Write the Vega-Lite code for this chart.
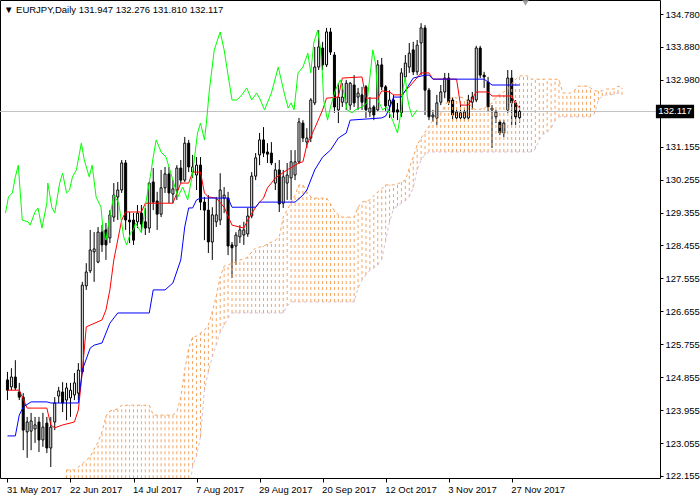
{
  "$schema": "https://vega.github.io/schema/vega-lite/v6.json",
  "width": 660,
  "height": 478,
  "autosize": {"type": "none"},
  "padding": {"left": 0, "top": 0, "right": 40, "bottom": 22},
  "background": "white",
  "title": {"text": "▼ EURJPY,Daily  131.947 132.276 131.810 132.117", "anchor": "start", "frame": "group", "orient": "top", "offset": -14, "baseline": "top", "font": "Liberation Sans", "fontSize": 9.5, "fontWeight": "normal", "color": "black", "dx": 4},
  "config": {"view": {"stroke": "black", "strokeWidth": 1}, "axis": {"labelOverlap": false, "labelFont": "Liberation Sans", "labelFontSize": 9.5, "labelColor": "black", "tickColor": "black", "grid": false, "domain": false, "title": null}, "axisY": {"labelOverlap": false}, "axisRight": {"labelOverlap": false}},
  "datasets": {
    "candles": [
      {"i":0,"o":124.78,"h":125.00,"l":124.23,"c":124.50},
      {"i":1,"o":124.59,"h":125.10,"l":124.50,"c":124.86},
      {"i":2,"o":124.86,"h":125.32,"l":124.50,"c":124.56},
      {"i":3,"o":124.45,"h":124.70,"l":124.23,"c":124.31},
      {"i":4,"o":124.31,"h":124.42,"l":122.86,"c":123.41},
      {"i":5,"o":123.36,"h":123.77,"l":122.65,"c":123.63},
      {"i":6,"o":123.38,"h":123.88,"l":122.86,"c":123.66},
      {"i":7,"o":123.44,"h":123.77,"l":123.06,"c":123.55},
      {"i":8,"o":123.63,"h":123.77,"l":122.81,"c":123.14},
      {"i":9,"o":123.14,"h":123.88,"l":122.95,"c":123.49},
      {"i":10,"o":123.60,"h":123.77,"l":122.78,"c":122.92},
      {"i":11,"o":122.92,"h":123.77,"l":122.40,"c":123.49},
      {"i":12,"o":123.63,"h":124.31,"l":123.41,"c":124.15},
      {"i":13,"o":124.34,"h":124.59,"l":124.15,"c":124.48},
      {"i":14,"o":124.45,"h":124.72,"l":123.90,"c":124.15},
      {"i":15,"o":124.23,"h":124.70,"l":123.68,"c":124.56},
      {"i":16,"o":124.29,"h":124.70,"l":123.77,"c":124.50},
      {"i":17,"o":124.37,"h":124.97,"l":124.23,"c":124.70},
      {"i":18,"o":124.42,"h":125.24,"l":124.23,"c":125.05},
      {"i":19,"o":125.00,"h":127.46,"l":124.94,"c":127.37},
      {"i":20,"o":127.35,"h":127.97,"l":127.24,"c":127.73},
      {"i":21,"o":127.76,"h":128.88,"l":127.70,"c":128.33},
      {"i":22,"o":128.28,"h":128.82,"l":127.46,"c":128.36},
      {"i":23,"o":128.00,"h":128.96,"l":127.97,"c":128.82},
      {"i":24,"o":128.82,"h":129.01,"l":128.28,"c":128.47},
      {"i":25,"o":128.88,"h":129.07,"l":128.06,"c":128.47},
      {"i":26,"o":128.66,"h":129.42,"l":128.52,"c":129.29},
      {"i":27,"o":129.23,"h":130.16,"l":129.10,"c":129.83},
      {"i":28,"o":129.78,"h":130.19,"l":129.15,"c":129.97},
      {"i":29,"o":129.97,"h":130.79,"l":129.89,"c":130.71},
      {"i":30,"o":130.71,"h":130.79,"l":128.88,"c":129.15},
      {"i":31,"o":129.15,"h":129.37,"l":128.52,"c":129.10},
      {"i":32,"o":129.15,"h":129.34,"l":128.47,"c":128.60},
      {"i":33,"o":129.10,"h":129.56,"l":128.93,"c":129.34},
      {"i":34,"o":129.34,"h":129.56,"l":128.82,"c":129.04},
      {"i":35,"o":129.10,"h":129.48,"l":128.74,"c":128.93},
      {"i":36,"o":128.93,"h":130.19,"l":128.80,"c":130.16},
      {"i":37,"o":130.19,"h":130.57,"l":129.42,"c":129.64},
      {"i":38,"o":129.67,"h":129.92,"l":128.88,"c":129.31},
      {"i":39,"o":129.31,"h":130.52,"l":129.23,"c":130.03},
      {"i":40,"o":130.03,"h":130.60,"l":129.89,"c":130.41},
      {"i":41,"o":130.41,"h":130.60,"l":129.61,"c":129.89},
      {"i":42,"o":129.86,"h":130.24,"l":129.61,"c":130.00},
      {"i":43,"o":129.97,"h":130.65,"l":129.70,"c":130.57},
      {"i":44,"o":130.57,"h":130.79,"l":130.16,"c":130.24},
      {"i":45,"o":130.24,"h":131.42,"l":130.19,"c":131.25},
      {"i":46,"o":131.25,"h":131.34,"l":130.46,"c":130.60},
      {"i":47,"o":130.46,"h":130.93,"l":130.30,"c":130.60},
      {"i":48,"o":130.38,"h":130.87,"l":129.97,"c":130.65},
      {"i":49,"o":130.65,"h":130.87,"l":129.42,"c":129.64},
      {"i":50,"o":129.64,"h":129.78,"l":128.60,"c":129.42},
      {"i":51,"o":129.42,"h":129.83,"l":128.25,"c":128.55},
      {"i":52,"o":128.55,"h":129.50,"l":128.06,"c":129.29},
      {"i":53,"o":129.10,"h":129.78,"l":128.96,"c":129.29},
      {"i":54,"o":129.15,"h":130.43,"l":129.01,"c":129.97},
      {"i":55,"o":129.75,"h":130.05,"l":129.34,"c":129.83},
      {"i":56,"o":129.75,"h":129.92,"l":128.19,"c":128.44},
      {"i":57,"o":128.47,"h":128.55,"l":127.57,"c":128.39},
      {"i":58,"o":128.44,"h":128.82,"l":127.92,"c":128.74},
      {"i":59,"o":128.69,"h":129.01,"l":128.52,"c":128.88},
      {"i":60,"o":128.74,"h":129.10,"l":128.47,"c":128.88},
      {"i":61,"o":128.77,"h":129.48,"l":128.69,"c":129.26},
      {"i":62,"o":129.26,"h":130.46,"l":129.20,"c":130.35},
      {"i":63,"o":130.35,"h":130.98,"l":130.24,"c":130.85},
      {"i":64,"o":130.93,"h":131.53,"l":130.65,"c":131.34},
      {"i":65,"o":131.34,"h":131.69,"l":130.87,"c":130.98},
      {"i":66,"o":131.01,"h":131.25,"l":130.71,"c":130.95},
      {"i":67,"o":130.98,"h":131.28,"l":130.65,"c":130.71},
      {"i":68,"o":130.16,"h":130.71,"l":129.97,"c":130.52},
      {"i":69,"o":130.52,"h":130.79,"l":129.37,"c":129.59},
      {"i":70,"o":129.61,"h":130.52,"l":129.48,"c":130.33},
      {"i":71,"o":130.16,"h":130.71,"l":129.70,"c":130.38},
      {"i":72,"o":130.30,"h":131.06,"l":129.70,"c":130.74},
      {"i":73,"o":130.38,"h":131.06,"l":130.24,"c":130.74},
      {"i":74,"o":130.74,"h":131.94,"l":130.68,"c":131.83},
      {"i":75,"o":131.80,"h":131.88,"l":131.28,"c":131.39},
      {"i":76,"o":131.28,"h":131.66,"l":131.12,"c":131.39},
      {"i":77,"o":131.39,"h":132.48,"l":131.28,"c":132.43},
      {"i":78,"o":132.35,"h":133.88,"l":132.29,"c":133.33},
      {"i":79,"o":133.33,"h":134.34,"l":133.25,"c":133.88},
      {"i":80,"o":133.85,"h":134.02,"l":133.25,"c":133.39},
      {"i":81,"o":133.39,"h":134.40,"l":133.33,"c":134.29},
      {"i":82,"o":134.29,"h":134.40,"l":133.66,"c":133.74},
      {"i":83,"o":133.66,"h":133.74,"l":132.08,"c":132.24},
      {"i":84,"o":132.16,"h":132.89,"l":131.80,"c":132.51},
      {"i":85,"o":132.37,"h":132.89,"l":132.24,"c":132.51},
      {"i":86,"o":132.35,"h":132.98,"l":132.16,"c":132.89},
      {"i":87,"o":132.29,"h":132.92,"l":132.16,"c":132.89},
      {"i":88,"o":132.84,"h":133.11,"l":132.24,"c":132.35},
      {"i":89,"o":132.51,"h":132.76,"l":132.16,"c":132.62},
      {"i":90,"o":132.57,"h":132.79,"l":132.16,"c":132.37},
      {"i":91,"o":132.79,"h":132.84,"l":131.94,"c":132.16},
      {"i":92,"o":132.10,"h":132.51,"l":131.97,"c":132.21},
      {"i":93,"o":132.24,"h":132.29,"l":131.88,"c":132.02},
      {"i":94,"o":132.16,"h":133.52,"l":132.10,"c":133.39},
      {"i":95,"o":133.39,"h":133.58,"l":132.70,"c":132.79},
      {"i":96,"o":132.79,"h":132.84,"l":132.10,"c":132.27},
      {"i":97,"o":132.27,"h":132.70,"l":131.94,"c":132.43},
      {"i":98,"o":132.43,"h":132.57,"l":131.94,"c":132.10},
      {"i":99,"o":132.16,"h":132.35,"l":131.88,"c":132.10},
      {"i":100,"o":132.08,"h":133.30,"l":131.97,"c":133.17},
      {"i":101,"o":133.06,"h":133.66,"l":132.98,"c":133.44},
      {"i":102,"o":133.33,"h":133.99,"l":133.17,"c":133.71},
      {"i":103,"o":133.80,"h":134.02,"l":133.11,"c":133.20},
      {"i":104,"o":133.20,"h":134.07,"l":133.11,"c":133.93},
      {"i":105,"o":133.99,"h":134.53,"l":133.11,"c":134.40},
      {"i":106,"o":134.40,"h":134.48,"l":132.02,"c":132.70},
      {"i":107,"o":132.70,"h":132.76,"l":131.88,"c":131.97},
      {"i":108,"o":131.97,"h":132.16,"l":131.83,"c":132.02},
      {"i":109,"o":131.94,"h":132.57,"l":131.75,"c":132.35},
      {"i":110,"o":132.37,"h":132.84,"l":132.29,"c":132.65},
      {"i":111,"o":132.65,"h":133.17,"l":132.48,"c":133.03},
      {"i":112,"o":133.03,"h":133.17,"l":132.29,"c":132.37},
      {"i":113,"o":132.43,"h":132.51,"l":131.88,"c":132.02},
      {"i":114,"o":131.94,"h":132.21,"l":131.88,"c":132.10},
      {"i":115,"o":131.94,"h":132.29,"l":131.88,"c":132.08},
      {"i":116,"o":131.94,"h":132.21,"l":131.86,"c":132.10},
      {"i":117,"o":131.94,"h":132.57,"l":131.88,"c":132.43},
      {"i":118,"o":132.37,"h":132.65,"l":132.16,"c":132.51},
      {"i":119,"o":132.43,"h":133.91,"l":132.37,"c":133.85},
      {"i":120,"o":133.85,"h":133.91,"l":133.03,"c":133.11},
      {"i":121,"o":133.11,"h":133.20,"l":132.76,"c":133.06},
      {"i":122,"o":132.92,"h":133.06,"l":132.10,"c":132.24},
      {"i":123,"o":132.21,"h":132.29,"l":131.12,"c":132.16},
      {"i":124,"o":131.97,"h":132.16,"l":131.80,"c":132.10},
      {"i":125,"o":131.83,"h":131.88,"l":131.47,"c":131.53},
      {"i":126,"o":131.53,"h":131.88,"l":131.42,"c":131.80},
      {"i":127,"o":132.16,"h":133.25,"l":132.08,"c":133.03},
      {"i":128,"o":133.03,"h":133.25,"l":131.75,"c":132.35},
      {"i":129,"o":132.35,"h":132.43,"l":131.75,"c":131.97},
      {"i":130,"o":131.947,"h":132.276,"l":131.810,"c":132.117}
    ],
    "tenkan": [
      {"i":0,"v":124.50},{"i":3,"v":124.50},{"i":5,"v":124.01},{"i":10,"v":124.01},{"i":11,"v":123.55},{"i":12,"v":123.47},{"i":14,"v":123.55},{"i":17,"v":123.63},{"i":18,"v":123.96},{"i":19,"v":125.00},{"i":20,"v":126.23},{"i":24,"v":126.42},{"i":25,"v":126.69},{"i":26,"v":127.24},{"i":27,"v":128.06},{"i":29,"v":129.15},{"i":30,"v":129.37},{"i":34,"v":129.37},{"i":35,"v":129.61},{"i":42,"v":129.61},{"i":44,"v":130.16},{"i":46,"v":130.16},{"i":47,"v":130.46},{"i":49,"v":130.46},{"i":50,"v":129.89},{"i":51,"v":129.78},{"i":53,"v":129.75},{"i":55,"v":129.50},{"i":57,"v":129.01},{"i":60,"v":128.93},{"i":61,"v":129.15},{"i":63,"v":129.50},{"i":64,"v":129.64},{"i":65,"v":129.75},{"i":66,"v":130.03},{"i":67,"v":130.16},{"i":68,"v":130.30},{"i":71,"v":130.52},{"i":74,"v":130.71},{"i":75,"v":130.74},{"i":76,"v":131.20},{"i":78,"v":131.66},{"i":80,"v":132.16},{"i":81,"v":132.48},{"i":84,"v":132.51},{"i":85,"v":133.03},{"i":90,"v":133.06},{"i":91,"v":132.48},{"i":94,"v":132.48},{"i":95,"v":132.68},{"i":97,"v":132.65},{"i":98,"v":132.57},{"i":100,"v":132.57},{"i":102,"v":132.79},{"i":105,"v":133.17},{"i":107,"v":133.17},{"i":108,"v":133.00},{"i":114,"v":133.00},{"i":115,"v":132.29},{"i":117,"v":132.29},{"i":119,"v":132.65},{"i":122,"v":132.65},{"i":123,"v":132.54},{"i":128,"v":132.54},{"i":129,"v":132.32},{"i":130,"v":132.21}
    ],
    "kijun": [
      {"i":0,"v":123.25},{"i":2,"v":123.25},{"i":3,"v":123.82},{"i":4,"v":124.04},{"i":6,"v":124.18},{"i":10,"v":124.18},{"i":11,"v":124.15},{"i":18,"v":124.15},{"i":19,"v":125.05},{"i":21,"v":125.65},{"i":22,"v":125.73},{"i":24,"v":125.79},{"i":26,"v":126.33},{"i":28,"v":126.61},{"i":36,"v":126.61},{"i":37,"v":127.24},{"i":40,"v":127.24},{"i":42,"v":127.43},{"i":44,"v":128.06},{"i":45,"v":128.96},{"i":46,"v":129.48},{"i":47,"v":129.48},{"i":48,"v":129.70},{"i":49,"v":129.75},{"i":56,"v":129.75},{"i":57,"v":129.50},{"i":63,"v":129.50},{"i":64,"v":129.64},{"i":73,"v":129.64},{"i":75,"v":129.83},{"i":76,"v":129.97},{"i":78,"v":130.52},{"i":80,"v":130.87},{"i":82,"v":131.06},{"i":84,"v":131.39},{"i":86,"v":131.53},{"i":87,"v":131.88},{"i":95,"v":131.94},{"i":96,"v":131.99},{"i":97,"v":132.21},{"i":98,"v":132.51},{"i":100,"v":132.51},{"i":103,"v":133.03},{"i":106,"v":133.11},{"i":107,"v":133.11},{"i":108,"v":133.00},{"i":121,"v":133.00},{"i":123,"v":132.84},{"i":130,"v":132.84}
    ],
    "chikou": [
      {"i":-0.5,"v":129.34},{"i":0.25,"v":129.78},{"i":1.25,"v":129.89},{"i":2,"v":130.33},{"i":2.75,"v":130.65},{"i":3.75,"v":129.15},{"i":5.25,"v":129.10},{"i":5.75,"v":129.01},{"i":7,"v":129.37},{"i":7.75,"v":129.48},{"i":8.75,"v":128.93},{"i":10,"v":129.61},{"i":10.25,"v":130.16},{"i":11.25,"v":129.50},{"i":12,"v":129.34},{"i":13.25,"v":130.16},{"i":14,"v":130.43},{"i":15,"v":129.89},{"i":15.75,"v":129.97},{"i":16.5,"v":130.33},{"i":17.5,"v":130.52},{"i":18.75,"v":131.25},{"i":19.5,"v":130.79},{"i":20.75,"v":130.33},{"i":21.5,"v":130.65},{"i":22.5,"v":129.78},{"i":23.75,"v":129.50},{"i":24.25,"v":128.88},{"i":25,"v":128.60},{"i":25.75,"v":129.10},{"i":27,"v":129.83},{"i":28.25,"v":129.61},{"i":29.5,"v":128.69},{"i":30.25,"v":128.47},{"i":31.25,"v":128.80},{"i":32,"v":128.88},{"i":32.5,"v":129.07},{"i":34,"v":128.80},{"i":35.25,"v":129.70},{"i":36.25,"v":130.33},{"i":37,"v":130.87},{"i":37.75,"v":131.34},{"i":39,"v":131.01},{"i":40.25,"v":130.87},{"i":42,"v":130.24},{"i":43.25,"v":129.78},{"i":44.5,"v":130.05},{"i":45.75,"v":129.70},{"i":47,"v":130.43},{"i":48.25,"v":131.53},{"i":49,"v":131.80},{"i":50,"v":131.34},{"i":50.5,"v":131.80},{"i":51.25,"v":132.70},{"i":52.5,"v":133.80},{"i":54,"v":134.29},{"i":55,"v":133.80},{"i":56,"v":133.11},{"i":57,"v":132.43},{"i":58.25,"v":132.43},{"i":59.5,"v":132.57},{"i":60.75,"v":132.76},{"i":62,"v":132.43},{"i":63.25,"v":132.62},{"i":64,"v":132.48},{"i":65.25,"v":132.16},{"i":67,"v":132.62},{"i":68.75,"v":133.33},{"i":70.25,"v":132.62},{"i":71.25,"v":132.21},{"i":72,"v":132.35},{"i":72.75,"v":132.16},{"i":73.75,"v":133.17},{"i":75,"v":133.33},{"i":76.25,"v":133.71},{"i":77,"v":133.17},{"i":77.75,"v":133.99},{"i":78.75,"v":134.34},{"i":79.5,"v":133.80},{"i":80,"v":133.06},{"i":80.25,"v":132.43},{"i":81.25,"v":131.88},{"i":82,"v":132.24},{"i":83.25,"v":132.70},{"i":84.5,"v":132.98},{"i":85.25,"v":132.70},{"i":86.25,"v":132.16},{"i":87.5,"v":132.08},{"i":88.25,"v":132.16},{"i":90,"v":132.24},{"i":91.25,"v":132.35},{"i":92,"v":133.06},{"i":92.75,"v":133.80},{"i":93.5,"v":133.39},{"i":94,"v":132.43},{"i":95.25,"v":132.16},{"i":96.25,"v":132.24},{"i":97.75,"v":131.88},{"i":99,"v":131.53},{"i":100,"v":132.16},{"i":100.5,"v":132.79},{"i":101,"v":133.06},{"i":101.5,"v":132.51},{"i":102,"v":132.24},{"i":102.75,"v":131.97},{"i":104,"v":132.16}
    ],
    "cloud": [
      {"i":15,"a":122.32,"b":121.6},{"i":16,"a":122.32,"b":121.6},{"i":17,"a":122.32,"b":121.6},{"i":18,"a":122.40,"b":121.6},{"i":19,"a":122.48,"b":121.6},{"i":20,"a":122.59,"b":121.6},{"i":21,"a":122.67,"b":121.6},{"i":22,"a":122.89,"b":121.6},{"i":23,"a":123.08,"b":121.6},{"i":24,"a":123.36,"b":121.6},{"i":25,"a":123.79,"b":121.6},{"i":26,"a":123.93,"b":121.6},{"i":27,"a":123.96,"b":121.6},{"i":28,"a":123.99,"b":121.6},{"i":29,"a":124.09,"b":121.6},{"i":30,"a":124.09,"b":121.6},{"i":31,"a":124.09,"b":121.6},{"i":32,"a":124.09,"b":121.6},{"i":33,"a":124.09,"b":121.6},{"i":34,"a":124.09,"b":121.6},{"i":35,"a":124.09,"b":121.6},{"i":36,"a":124.09,"b":121.6},{"i":37,"a":123.82,"b":121.6},{"i":38,"a":123.82,"b":121.6},{"i":39,"a":123.82,"b":121.6},{"i":40,"a":123.82,"b":121.6},{"i":41,"a":123.82,"b":121.6},{"i":42,"a":123.82,"b":121.6},{"i":43,"a":123.90,"b":121.6},{"i":44,"a":124.31,"b":121.6},{"i":45,"a":125.05,"b":121.6},{"i":46,"a":125.65,"b":121.6},{"i":47,"a":125.95,"b":122.43},{"i":48,"a":125.98,"b":122.70},{"i":49,"a":126.06,"b":123.22},{"i":50,"a":126.14,"b":124.50},{"i":51,"a":126.28,"b":125.00},{"i":52,"a":126.64,"b":125.41},{"i":53,"a":127.07,"b":125.73},{"i":54,"a":127.59,"b":126.09},{"i":55,"a":127.89,"b":126.28},{"i":56,"a":127.92,"b":126.47},{"i":57,"a":127.97,"b":126.61},{"i":58,"a":128.00,"b":126.61},{"i":59,"a":128.06,"b":126.61},{"i":60,"a":128.08,"b":126.61},{"i":61,"a":128.14,"b":126.61},{"i":62,"a":128.28,"b":126.61},{"i":63,"a":128.39,"b":126.61},{"i":64,"a":128.41,"b":126.61},{"i":65,"a":128.44,"b":126.61},{"i":66,"a":128.49,"b":126.61},{"i":67,"a":128.55,"b":126.61},{"i":68,"a":128.60,"b":126.61},{"i":69,"a":128.69,"b":126.61},{"i":70,"a":129.23,"b":126.61},{"i":71,"a":129.42,"b":126.80},{"i":72,"a":129.64,"b":126.91},{"i":73,"a":129.83,"b":126.91},{"i":74,"a":130.11,"b":126.91},{"i":75,"a":130.11,"b":126.91},{"i":76,"a":129.92,"b":126.91},{"i":77,"a":129.78,"b":126.91},{"i":78,"a":129.75,"b":126.91},{"i":79,"a":129.75,"b":126.91},{"i":80,"a":129.75,"b":126.91},{"i":81,"a":129.75,"b":126.91},{"i":82,"a":129.59,"b":126.91},{"i":83,"a":129.40,"b":126.91},{"i":84,"a":129.29,"b":126.91},{"i":85,"a":129.23,"b":126.91},{"i":86,"a":129.23,"b":126.91},{"i":87,"a":129.23,"b":126.91},{"i":88,"a":129.23,"b":126.91},{"i":89,"a":129.50,"b":127.29},{"i":90,"a":129.64,"b":127.51},{"i":91,"a":129.67,"b":127.65},{"i":92,"a":129.70,"b":127.78},{"i":93,"a":129.81,"b":127.84},{"i":94,"a":129.92,"b":127.92},{"i":95,"a":130.00,"b":128.08},{"i":96,"a":130.11,"b":128.58},{"i":97,"a":130.11,"b":129.10},{"i":98,"a":130.11,"b":129.45},{"i":99,"a":130.13,"b":129.53},{"i":100,"a":130.19,"b":129.61},{"i":101,"a":130.24,"b":129.67},{"i":102,"a":130.57,"b":129.78},{"i":103,"a":130.87,"b":130.03},{"i":104,"a":131.20,"b":130.52},{"i":105,"a":131.39,"b":130.79},{"i":106,"a":131.55,"b":130.93},{"i":107,"a":131.72,"b":131.01},{"i":108,"a":131.86,"b":131.01},{"i":109,"a":131.97,"b":131.01},{"i":110,"a":132.07,"b":131.01},{"i":111,"a":132.27,"b":131.01},{"i":112,"a":132.43,"b":131.01},{"i":113,"a":132.51,"b":131.01},{"i":114,"a":132.48,"b":131.01},{"i":115,"a":132.51,"b":131.01},{"i":116,"a":132.48,"b":131.01},{"i":117,"a":132.37,"b":131.01},{"i":118,"a":132.21,"b":131.01},{"i":119,"a":132.16,"b":131.01},{"i":120,"a":132.18,"b":131.01},{"i":121,"a":132.21,"b":131.01},{"i":122,"a":132.27,"b":131.01},{"i":123,"a":132.35,"b":131.01},{"i":124,"a":132.51,"b":131.01},{"i":125,"a":132.59,"b":131.01},{"i":126,"a":132.65,"b":131.01},{"i":127,"a":132.73,"b":131.01},{"i":128,"a":132.87,"b":131.01},{"i":129,"a":133.00,"b":131.01},{"i":130,"a":133.09,"b":131.01},{"i":131,"a":133.09,"b":131.01},{"i":132,"a":133.09,"b":131.01},{"i":133,"a":133.00,"b":131.01},{"i":134,"a":133.00,"b":131.09},{"i":135,"a":133.00,"b":131.34},{"i":136,"a":133.00,"b":131.50},{"i":137,"a":133.00,"b":131.55},{"i":138,"a":133.00,"b":131.66},{"i":139,"a":133.00,"b":131.86},{"i":140,"a":132.98,"b":131.97},{"i":141,"a":132.62,"b":131.97},{"i":142,"a":132.62,"b":131.97},{"i":143,"a":132.62,"b":131.97},{"i":144,"a":132.70,"b":131.97},{"i":145,"a":132.81,"b":131.97},{"i":146,"a":132.81,"b":131.97},{"i":147,"a":132.81,"b":131.97},{"i":148,"a":132.76,"b":131.97},{"i":149,"a":132.68,"b":132.05},{"i":150,"a":132.68,"b":132.43},{"i":151,"a":132.68,"b":132.54},{"i":152,"a":132.73,"b":132.57},{"i":153,"a":132.73,"b":132.57},{"i":154,"a":132.73,"b":132.59},{"i":155,"a":132.81,"b":132.62},{"i":156,"a":132.76,"b":132.57}
    ],
    "last": [{"p": 132.117, "label": "132.117", "x1": 164.6, "x2": 174.3, "xm": 169.45, "top": 132.30, "bottom": 131.93}],
    "shift": [{"i": 131.5, "p": 135.08}]
  },
  "layer": [
    {
      "data": {"name": "candles"},
      "mark": {"type": "rule", "color": "black", "strokeWidth": 1, "clip": true},
      "encoding": {
        "x": {"field": "i", "type": "quantitative", "scale": {"domain": [-0.625, 164.375], "nice": false, "zero": false},
          "axis": {"values": [0,16,32,48,64,80,96,112,128], "labelExpr": "['31 May 2017','22 Jun 2017','14 Jul 2017','7 Aug 2017','29 Aug 2017','20 Sep 2017','12 Oct 2017','3 Nov 2017','27 Nov 2017'][round(datum.value/16)]", "title": null, "grid": false, "domain": false, "ticks": true, "tickColor": "black", "tickSize": 4, "labelAlign": "left", "labelFont": "Liberation Sans", "labelFontSize": 9.5, "labelColor": "black", "labelPadding": 2, "labelOffset": -1, "labelFlush": false, "labelOverlap": false, "labelBound": false}},
        "y": {"field": "l", "type": "quantitative", "scale": {"domain": [122.1, 135.163], "nice": false, "zero": false},
          "axis": {"orient": "right", "values": [122.155,123.055,123.955,124.855,125.755,126.655,127.555,128.455,129.355,130.255,131.155,132.98,133.88,134.78], "labelExpr": "format(datum.value, '.3f')", "tickCount": 30, "title": null, "grid": false, "domain": false, "ticks": true, "tickColor": "black", "tickSize": 3, "labelFont": "Liberation Sans", "labelFontSize": 9.5, "labelColor": "black", "labelPadding": 2, "labelOverlap": false, "labelFlush": false}},
        "y2": {"field": "h"}
      }
    },
    {
      "data": {"name": "last"},
      "mark": {"type": "rule", "color": "#C0C0C0", "strokeWidth": 1},
      "encoding": {
        "y": {"field": "p", "type": "quantitative"}
      }
    },
    {
      "data": {"name": "candles"},
      "mark": {"type": "bar", "size": 2, "stroke": "black", "strokeWidth": 1, "clip": true},
      "encoding": {
        "x": {"field": "i", "type": "quantitative"},
        "y": {"field": "o", "type": "quantitative"},
        "y2": {"field": "c"},
        "fill": {"condition": {"test": "datum.c < datum.o", "value": "black"}, "value": "white"}
      }
    },
    {
      "data": {"name": "cloud"},
      "mark": {"type": "rule", "color": "#F4A460", "strokeWidth": 1, "strokeDash": [3, 3], "clip": true},
      "encoding": {
        "x": {"field": "i", "type": "quantitative"},
        "y": {"field": "b", "type": "quantitative"},
        "y2": {"field": "a"}
      }
    },
    {
      "data": {"name": "cloud"},
      "mark": {"type": "line", "color": "#F4A460", "strokeWidth": 1, "strokeDash": [3, 3], "clip": true},
      "encoding": {
        "x": {"field": "i", "type": "quantitative"},
        "y": {"field": "a", "type": "quantitative"}
      }
    },
    {
      "data": {"name": "cloud"},
      "mark": {"type": "line", "color": "#D8BFD8", "strokeWidth": 1, "strokeDash": [3, 3], "clip": true},
      "encoding": {
        "x": {"field": "i", "type": "quantitative"},
        "y": {"field": "b", "type": "quantitative"}
      }
    },
    {
      "data": {"name": "tenkan"},
      "mark": {"type": "line", "color": "#FF0000", "strokeWidth": 1, "clip": true},
      "encoding": {
        "x": {"field": "i", "type": "quantitative"},
        "y": {"field": "v", "type": "quantitative"}
      }
    },
    {
      "data": {"name": "kijun"},
      "mark": {"type": "line", "color": "#0000FF", "strokeWidth": 1, "clip": true},
      "encoding": {
        "x": {"field": "i", "type": "quantitative"},
        "y": {"field": "v", "type": "quantitative"}
      }
    },
    {
      "data": {"name": "chikou"},
      "mark": {"type": "line", "color": "#00FF00", "strokeWidth": 1, "clip": true},
      "encoding": {
        "x": {"field": "i", "type": "quantitative"},
        "y": {"field": "v", "type": "quantitative"}
      }
    },
    {
      "data": {"name": "shift"},
      "mark": {"type": "point", "shape": "triangle-down", "filled": true, "color": "#A0A0A0", "size": 40, "opacity": 1},
      "encoding": {
        "x": {"field": "i", "type": "quantitative"},
        "y": {"field": "p", "type": "quantitative"}
      }
    },
    {
      "data": {"name": "last"},
      "mark": {"type": "rect", "color": "black"},
      "encoding": {
        "x": {"field": "x1", "type": "quantitative"},
        "x2": {"field": "x2"},
        "y": {"field": "top", "type": "quantitative"},
        "y2": {"field": "bottom"}
      }
    },
    {
      "data": {"name": "last"},
      "mark": {"type": "text", "color": "white", "font": "Liberation Sans", "fontSize": 9.5, "align": "center", "baseline": "middle"},
      "encoding": {
        "x": {"field": "xm", "type": "quantitative"},
        "y": {"field": "p", "type": "quantitative"},
        "text": {"field": "label"}
      }
    }
  ]
}
